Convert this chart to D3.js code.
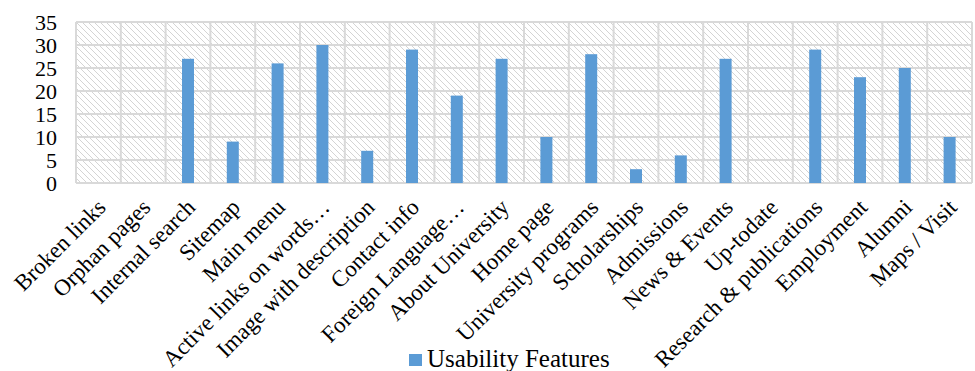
<!DOCTYPE html>
<html>
<head>
<meta charset="utf-8">
<script src="https://cdn.jsdelivr.net/npm/d3@7"></script>
<style>
  html, body { margin: 0; padding: 0; background: #fff; }
  svg { display: block; }
  text { font-family: "Liberation Serif", "Times New Roman", serif; fill: #000; }
</style>
</head>
<body>
<svg id="chart" width="975" height="371"></svg>
<script>
// Usability features found on the surveyed university websites
const categories = [
  "Broken links", "Orphan pages", "Internal search", "Sitemap", "Main menu",
  "Active links on words…", "Image with description", "Contact info",
  "Foreign Language…", "About University", "Home page", "University programs",
  "Scholarships", "Admissions", "News & Events", "Up-todate",
  "Research & publications", "Employment", "Alumni", "Maps / Visit"
];
const values = [0, 0, 27, 9, 26, 30, 7, 29, 19, 27, 10, 28, 3, 6, 27, 0, 29, 23, 25, 10];
const yTicks = [0, 5, 10, 15, 20, 25, 30, 35];
const seriesName = "Usability Features";

const svg = d3.select("#chart");
const plot = { left: 76, right: 972, top: 22, bottom: 183 };

const x = d3.scaleBand().domain(categories).range([plot.left, plot.right]).paddingInner(0).paddingOuter(0);
const y = d3.scaleLinear().domain([0, 35]).range([plot.bottom, plot.top]);

// Diagonal hatch fill for the plot area
const defs = svg.append("defs");
const pat = defs.append("pattern")
  .attr("id", "hatch")
  .attr("patternUnits", "userSpaceOnUse")
  .attr("width", 6).attr("height", 6);
pat.append("rect").attr("width", 6).attr("height", 6).attr("fill", "#fff");
pat.append("path")
  .attr("d", "M-1,-1 L7,7 M-1,5 L1,7 M5,-1 L7,1")
  .attr("stroke", "#d4d4d4").attr("stroke-width", 1);

svg.append("rect")
  .attr("x", plot.left).attr("y", plot.top)
  .attr("width", plot.right - plot.left).attr("height", plot.bottom - plot.top)
  .attr("fill", "url(#hatch)");

// Horizontal gridlines
svg.append("g").selectAll("line").data(yTicks).join("line")
  .attr("x1", plot.left).attr("x2", plot.right)
  .attr("y1", d => y(d)).attr("y2", d => y(d))
  .attr("stroke", "#d9d9d9").attr("stroke-width", 2);

// Vertical gridlines at category boundaries
const bounds = categories.map(c => x(c)).concat([plot.right]);
svg.append("g").selectAll("line").data(bounds).join("line")
  .attr("x1", d => d).attr("x2", d => d)
  .attr("y1", plot.top).attr("y2", plot.bottom)
  .attr("stroke", "#d9d9d9").attr("stroke-width", 2);

// Bars
const barW = 12;
svg.append("g").selectAll("rect").data(categories).join("rect")
  .attr("x", (d) => x(d) + x.bandwidth() / 2 - barW / 2)
  .attr("width", barW)
  .attr("y", (d, i) => y(values[i]))
  .attr("height", (d, i) => y(0) - y(values[i]))
  .attr("fill", "#5b9bd5");

// Y axis labels
const yAxis = d3.axisLeft(y).tickValues(yTicks).tickSize(0).tickPadding(0);
const gy = svg.append("g").attr("transform", "translate(57,0)").call(yAxis);
gy.select(".domain").remove();
gy.selectAll("text")
  .style("font-family", '"Liberation Serif", "Times New Roman", serif')
  .style("font-size", "22px").attr("fill", "#000");

// X axis labels, rotated
const xAxis = d3.axisBottom(x).tickSize(0).tickPadding(0);
const gx = svg.append("g").attr("transform", `translate(0,${plot.bottom})`).call(xAxis);
gx.select(".domain").remove();
gx.selectAll("text")
  .style("font-family", '"Liberation Serif", "Times New Roman", serif')
  .style("font-size", "23px").attr("fill", "#000")
  .attr("text-anchor", "end")
  .attr("y", 0).attr("dy", "0.35em")
  .attr("transform", "translate(3,20) rotate(-45)");

// Legend
const leg = svg.append("g");
leg.append("rect").attr("x", 409).attr("y", 354).attr("width", 13).attr("height", 12).attr("fill", "#5b9bd5");
leg.append("text").attr("x", 427).attr("y", 367)
  .style("font-size", "25px").text(seriesName);
</script>
</body>
</html>
